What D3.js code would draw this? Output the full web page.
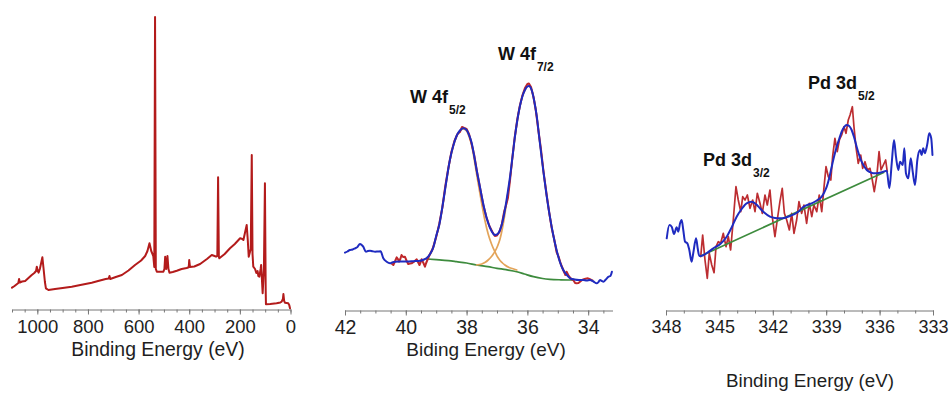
<!DOCTYPE html>
<html>
<head>
<meta charset="utf-8">
<script src="https://cdn.jsdelivr.net/npm/d3@7/dist/d3.min.js"></script>
<style>
  html, body { margin: 0; padding: 0; background: #fff; }
  svg { display: block; font-family: "Liberation Sans", Arial, sans-serif; }
</style>
</head>
<body>
<script>
// ---------- Survey spectrum ----------
const surveyEV = [1100,1090,1080,1075,1072,1069,1060,1048,1035,1022,1012,1005,1002,998,995,990,984,980,976,970,966,956,930,900,864,830,800,785,760,730,718,715,712,690,666,640,614,590,574,565,557,550,542,538,535,532,528,515,502,498,495,491,488,486,482,478,465,449,430,410,402,400,397,380,357,330,311,300,294,289,286,283,281,260,239,220,199,190,186,180,173,169,165,157,153,150,147,140,135,130,127,123,118,116,113,110,105,101,98,97,80,55,40,35,30,28,25,22,15,9,5,2];
const surveyCounts = [21.3,23,25,26,30,26.5,27.5,28,31,34,36,38,42.3,38,36.3,40,47,51.7,42,27,20.7,19,20,21,22.3,24,25.5,26.3,28,30,30.5,33,30,32,34,38.5,44,48.5,53,58,65.7,58,53,42,292,40,37.3,37.3,37.3,40,52.3,40,45,53,40,36.3,37,38.3,40,41,41.7,49,42,42.5,45,50,54,53,52.3,53,131.7,52,50.7,55,60.7,65,70.7,70,69,76,84,70,52.3,60,154,55,42.3,40,36,38,33,32.3,40,44,30,15.7,40,125.7,20,4.7,5,5.7,6.5,7.3,10,15,8,6.3,6,5.7,4,0.7];
const surveyMajor = [1000, 800, 600, 400, 200, 0];
const surveyMinor = d3.range(0, 1101, 50);

// ---------- W 4f region ----------
const wFitEV = [42.0,41.92,41.84,41.75,41.67,41.59,41.51,41.45,41.40,41.31,41.25,41.18,41.10,41.01,40.92,40.83,40.74,40.63,40.52,40.45,40.36,40.2,39.97,39.75,39.53,39.40,39.31,39.2,39.09,39.0,38.9,38.77,38.66,38.55,38.44,38.33,38.22,38.11,38.0,37.92,37.83,37.75,37.67,37.58,37.5,37.4,37.29,37.18,37.07,36.98,36.9,36.82,36.74,36.66,36.57,36.49,36.41,36.33,36.25,36.16,36.08,36.0,35.95,35.86,35.78,35.69,35.6,35.48,35.37,35.26,35.15,35.04,34.93,34.82,34.7,34.59,34.45,34.3,34.16,34.05,33.94,33.83,33.72,33.66,33.61,33.55,33.5,33.42,33.33,33.27,33.22];
const wFitCounts = [57.3,58.5,60,60.5,61.7,63,66,65,63.3,58.3,59,59.3,58.8,58.3,58.5,58.7,51.7,48.3,46.7,47.5,48.3,48.5,48.5,48.8,49.2,50.5,52,56,63,74,85,108,130,150,164,174,179.5,181.7,180,175,166.7,154,140,126,113.3,99,87,79,75,76,80,88,100,115,133.3,153,173.3,190,203.3,214,220,223.5,224,220,210,193.3,170,140,115,93.3,75,60,48,40,35,31.7,30.5,30,30,29.5,30,28.5,26.7,28,30,29,28.3,30.5,33.3,34,38.3];

const wRawEV = [40.45,40.41,40.35,40.30,40.26,40.22,40.18,40.14,40.09,40.03,39.97,39.92,39.86,39.81,39.74,39.64,39.60,39.55,39.51,39.48,39.42,39.37,39.33,39.29,39.22,39.12,39.0,38.9,38.8,38.7,38.6,38.5,38.4,38.3,38.22,38.15,38.08,38.0,37.92,37.85,37.75,37.65,37.55,37.45,37.35,37.25,37.15,37.07,37.0,36.92,36.84,36.76,36.7,36.64,36.57,36.5,36.42,36.33,36.25,36.16,36.08,36.0,35.95,35.88,35.8,35.72,35.64,35.55,35.46,35.37,35.28,35.2,35.12,35.04,34.97,34.9,34.82,34.75,34.71,34.64,34.56,34.49,34.43,34.38,34.32,34.27,34.2,34.12,34.05,34.01,33.96,33.9,33.86];
const wRawCounts = [46,45,49,52.7,51,48.3,51,55,53,53.3,49,46,46.5,46.7,48,50.7,48,45,48,50.7,47,43.3,47,50,55,61,73,86,102,124,142,158,169,176,178,183,182,181,176,168,155,137,121,105,93,84,78,74,74.5,78,86,99,105,112,130,151,172,191,204,215,222,226,226.5,223,213,199,180,160,136,116,97,82,71,58,53,46,40,35,38.3,34,31,30,27,26.7,27,28.3,30,31,31.5,31.7,31,30,29.5];

const w52EV = [39.31,39.2,39.09,39.0,38.9,38.77,38.66,38.55,38.44,38.33,38.22,38.11,38.0,37.92,37.83,37.75,37.67,37.58,37.5,37.4,37.29,37.18,37.07,36.98,36.9,36.82,36.74,36.6,36.45,36.35];
const w52Counts = [52,55.5,62.5,73.5,84.5,107.5,129.5,149.5,163.5,173.5,179,181,179,173.5,164.5,151,136,120,106,90,76,66,58.3,53,49.5,47,45,42.5,41,40];
const w72EV = [37.67,37.5,37.4,37.29,37.18,37.07,36.98,36.9,36.82,36.74,36.66,36.57,36.49,36.41,36.33,36.25,36.16,36.08,36.0,35.95,35.86,35.78,35.69,35.6,35.48,35.37,35.26,35.15,35.04,34.93,34.82,34.7,34.59,34.45];
const w72Counts = [45,46,47.5,50,53.5,58.3,64,71,82,96,113,132,152,172.5,189.5,203,214,220,223.5,224,220,210,193.3,170,140,115,93.3,75,60,48,40,35,31.7,30.5];
const wBgEV = [39.31,39.0,38.6,38.33,38.0,37.67,37.3,37.0,36.7,36.35,36.1,35.8,35.5,35.26,34.9,34.49];
const wBgCounts = [51,50.3,49.3,48.3,47,45,43.3,41.7,40.3,38.3,36,33.3,31.5,30.7,30.2,30];
const wMajor = [42, 40, 38, 36, 34];
const wMinor = d3.range(33.5, 42.01, 0.5);

// ---------- Pd 3d region ----------
const pdFitEV = [347.96,347.81,347.68,347.55,347.40,347.31,347.21,347.12,347.03,346.93,346.80,346.69,346.56,346.47,346.31,346.22,346.13,346.05,345.7,345.34,344.95,344.59,344.3,344.03,343.75,343.47,343.19,342.95,342.72,342.45,342.16,341.88,341.60,341.3,341.03,340.57,340.29,339.72,339.45,339.25,339.1,338.97,338.83,338.69,338.55,338.41,338.27,338.13,337.99,337.85,337.71,337.57,337.43,337.29,337.15,337.01,336.86,336.72,336.55,336.35,336.15,335.98,335.8,335.60,335.45,335.32,335.19,335.08,334.95,334.85,334.70,334.61,334.52,334.39,334.25,334.14,334.01,333.88,333.73,333.64,333.55,333.46,333.33,333.21,333.10,333.03];
const pdFitCounts = [71.7,85,83.3,76,82.7,78.3,86.7,90,80,68.3,66.7,60,48.3,56.7,71.7,61.7,54,54,57,61.7,66,73.3,83,93.3,101,106.7,108.3,106,101.7,97,93.3,92,91.7,92.3,94,98.3,103,107.5,110.5,113.3,118,123.3,132,143.3,154,163.3,171,178.3,183,185,184,180,172.5,163.3,155,148.3,143.5,140,138,136.7,136.8,137.3,138.3,139.3,121.7,146.7,170,153.3,140,148.3,145,161.7,136.7,131.7,151.7,138.3,125,150,160,155,161.7,156.7,165,176.7,171.7,155];

const pdRawEV = [346.05,345.94,345.81,345.68,345.57,345.43,345.30,345.19,345.06,344.93,344.78,344.63,344.50,344.37,344.22,344.07,343.94,343.80,343.69,343.56,343.43,343.28,343.13,343.00,342.87,342.72,342.59,342.44,342.31,342.16,342.03,341.88,341.75,341.60,341.47,341.35,341.22,341.07,340.94,340.81,340.66,340.53,340.38,340.25,340.10,339.95,339.81,339.69,339.53,339.39,339.25,339.12,339.01,338.88,338.74,338.64,338.51,338.38,338.26,338.13,338.00,337.89,337.76,337.66,337.53,337.44,337.33,337.20,337.06,336.95,336.82,336.69,336.54,336.41,336.30,336.16,336.03,335.92,335.79,335.66,335.57];
const pdRawCounts = [53.3,75,50,31.7,56.7,45,37.3,63.3,68.3,66.7,76.7,63.3,73.3,60,90,123.3,110,98.3,113.3,110,115,101.7,110,98.3,116.7,106.7,96.7,115,105,120,93.3,73.3,90,108.3,121.7,96.7,90,80,96.7,76.7,90,108.3,96.7,105,86.7,106.7,93.3,105,98.3,115,98.3,123.3,143.3,133.3,130,153.3,171.7,158.3,170,175,183.3,176.7,190,195,203.3,183.3,163.3,146.7,155,141.7,148.3,140,141.7,130,118.3,133.3,158.3,140,145,150,138.3];

const pdBgEV = [346.05, 335.77];
const pdBgCounts = [54, 137.5];
const pdMajor = [348, 345, 342, 339, 336, 333];
const pdMinor = d3.range(333, 348.01, 1);

// ---------- peak labels ----------
const wLabels = [
  { text: "W 4f", sub: "5/2", ev: 39.86, at: 207 },
  { text: "W 4f", sub: "7/2", ev: 36.97, at: 250 }
];
const pdLabels = [
  { text: "Pd 3d", sub: "3/2", ev: 345.92, at: 144 },
  { text: "Pd 3d", sub: "5/2", ev: 340.02, at: 221 }
];

// ---------- drawing ----------
const W = 952, H = 394;
const svg = d3.select("body").append("svg").attr("width", W).attr("height", H);

const COL = {
  survey: "#b31b1b",
  raw: "#c0282b",
  fit: "#1f2bc0",
  comp: "#e3a45a",
  bg: "#3d8b3d",
  axis: "#777",
  text: "#1e1e1e"
};

function zip(xs, ys) { return xs.map((v, i) => [v, ys[i]]); }

function drawLine(x, y, ev, counts, color, width, curve, opacity) {
  const line = d3.line()
    .x(d => x(d[0]))
    .y(d => y(d[1]))
    .curve(curve || d3.curveLinear);
  svg.append("path")
    .datum(zip(ev, counts))
    .attr("fill", "none")
    .attr("stroke", color)
    .attr("stroke-width", width)
    .attr("stroke-linejoin", "round")
    .attr("stroke-linecap", "round")
    .attr("stroke-opacity", opacity == null ? 1 : opacity)
    .attr("d", line);
}

function drawAxis(x, yPos, major, minor, tickFont, title, titleFont, titleX, titleY) {
  const gMinor = svg.append("g").attr("transform", `translate(0,${yPos})`)
    .call(d3.axisBottom(x).tickValues(minor).tickSize(3).tickSizeOuter(0).tickFormat(""));
  const gMajor = svg.append("g").attr("transform", `translate(0,${yPos})`)
    .call(d3.axisBottom(x).tickValues(major).tickSize(5).tickSizeOuter(0).tickPadding(5).tickFormat(d3.format("d")));
  [gMinor, gMajor].forEach(g => {
    g.select(".domain").attr("stroke", COL.axis);
    g.selectAll(".tick line").attr("stroke", COL.axis);
  });
  gMinor.select(".domain").remove();
  gMajor.selectAll(".tick text")
    .attr("font-family", "Liberation Sans, Arial, sans-serif")
    .attr("font-size", tickFont)
    .attr("fill", COL.text);
  svg.append("text")
    .attr("x", titleX).attr("y", titleY)
    .attr("text-anchor", "middle")
    .attr("font-size", titleFont)
    .attr("fill", COL.text)
    .text(title);
}

function drawLabels(x, y, labels) {
  labels.forEach(l => {
    const t = svg.append("text")
      .attr("x", x(l.ev)).attr("y", y(l.at))
      .attr("font-weight", "bold")
      .attr("font-size", 18)
      .attr("fill", "#111");
    t.append("tspan").text(l.text);
    t.append("tspan").attr("dx", 1).attr("dy", 11).attr("font-size", 12).text(l.sub);
  });
}

// Panel 1: survey
{
  const x = d3.scaleLinear().domain([1100, 0]).range([12, 290.5]);
  const y = d3.scaleLinear().domain([0, 300]).range([309, 9]);
  drawAxis(x, 309.5, surveyMajor, surveyMinor, 18.5, "Binding Energy (eV)", 19.4, 158, 356);
  drawLine(x, y, surveyEV, surveyCounts, COL.survey, 2);
}

// Panel 2: W 4f
{
  const x = d3.scaleLinear().domain([42, 33.2]).range([345, 612.5]);
  const y = d3.scaleLinear().domain([0, 300]).range([310, 10]);
  drawAxis(x, 310.5, wMajor, wMinor, 19.5, "Biding Energy (eV)", 19, 486, 356);
  drawLine(x, y, wBgEV, wBgCounts, COL.bg, 1.7, d3.curveMonotoneX);
  drawLine(x, y, w52EV, w52Counts, COL.comp, 1.7, d3.curveMonotoneX);
  drawLine(x, y, w72EV, w72Counts, COL.comp, 1.7, d3.curveMonotoneX);
  drawLine(x, y, wRawEV, wRawCounts, COL.raw, 2);
  drawLine(x, y, wFitEV, wFitCounts, COL.fit, 2, d3.curveMonotoneX);
  drawLabels(x, y, wLabels);
}

// Panel 3: Pd 3d
{
  const x = d3.scaleLinear().domain([348, 333]).range([666, 933]);
  const y = d3.scaleLinear().domain([0, 300]).range([310, 10]);
  drawAxis(x, 310.5, pdMajor, pdMinor, 18, "Binding Energy (eV)", 18.8, 810, 387);
  drawLine(x, y, pdRawEV, pdRawCounts, "#b82226", 1.7, d3.curveLinear, 0.95);
  drawLine(x, y, pdBgEV, pdBgCounts, COL.bg, 1.7);
  drawLine(x, y, pdFitEV, pdFitCounts, COL.fit, 2, d3.curveMonotoneX);
  drawLabels(x, y, pdLabels);
}
</script>
</body>
</html>
